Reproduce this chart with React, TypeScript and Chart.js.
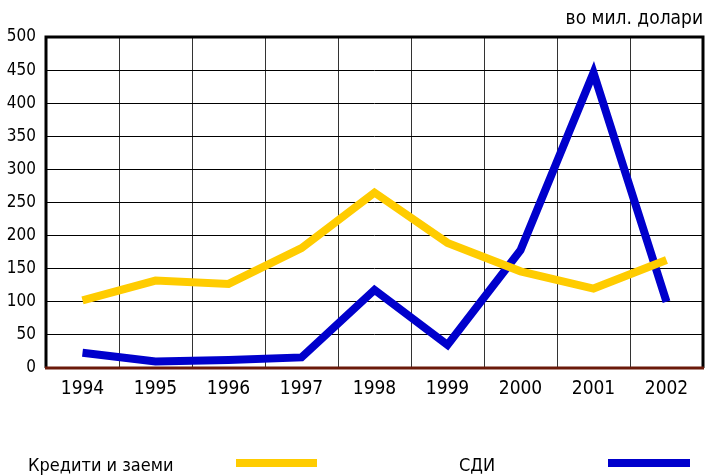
import React, { useEffect, useRef } from "react";
import { Chart, registerables } from "chart.js";

Chart.register(...registerables);

const years = ["1994", "1995", "1996", "1997", "1998", "1999", "2000", "2001", "2002"];
const loans = [102, 132, 127, 181, 265, 189, 146, 120, 163];
const fdi = [23, 10, 12, 16, 118, 35, 178, 446, 100];
const seriesNames = ["Кредити и заеми", "СДИ"];
const unitLabel = "во мил. долари";
const yMin = 0;
const yMax = 500;
const yStep = 50;

const FONT = "'Liberation Sans Narrow', 'DejaVu Sans Condensed', Arial, sans-serif";
const YELLOW = "#FFCC00";
const BLUE = "#0000CC";

const decorPlugin = {
  id: "decor",
  afterDraw(chart: any) {
    const { ctx, chartArea } = chart;
    const { left, right, top, bottom } = chartArea;
    ctx.save();
    // frame
    ctx.lineWidth = 3;
    ctx.strokeStyle = "#000";
    ctx.beginPath();
    ctx.moveTo(left, bottom);
    ctx.lineTo(left, top);
    ctx.lineTo(right, top);
    ctx.lineTo(right, bottom);
    ctx.stroke();
    ctx.strokeStyle = "#6B1A0A";
    ctx.beginPath();
    ctx.moveTo(left - 1, bottom);
    ctx.lineTo(right + 1, bottom);
    ctx.stroke();
    // unit label
    ctx.fillStyle = "#000";
    ctx.font = `19px ${FONT}`;
    ctx.textAlign = "right";
    ctx.textBaseline = "middle";
    ctx.fillText(unitLabel, 703, 19);
    // legend
    ctx.textAlign = "left";
    ctx.font = `18px ${FONT}`;
    ctx.fillText(seriesNames[0], 28, 466);
    ctx.fillText(seriesNames[1], 459, 466);
    ctx.lineWidth = 8;
    ctx.lineCap = "butt";
    ctx.strokeStyle = YELLOW;
    ctx.beginPath();
    ctx.moveTo(236, 463);
    ctx.lineTo(317, 463);
    ctx.stroke();
    ctx.strokeStyle = BLUE;
    ctx.beginPath();
    ctx.moveTo(608, 463);
    ctx.lineTo(690, 463);
    ctx.stroke();
    ctx.restore();
  },
};

export default function App() {
  const ref = useRef<HTMLCanvasElement>(null);
  useEffect(() => {
    document.body.style.margin = "0";
    const chart = new Chart(ref.current!, {
      type: "line",
      data: {
        labels: years,
        datasets: [
          {
            label: seriesNames[0],
            data: loans,
            borderColor: YELLOW,
            backgroundColor: YELLOW,
            borderWidth: 8,
            pointRadius: 0,
            tension: 0,
          },
          {
            label: seriesNames[1],
            data: fdi,
            borderColor: BLUE,
            backgroundColor: BLUE,
            borderWidth: 8,
            pointRadius: 0,
            tension: 0,
          },
        ],
      },
      options: {
        responsive: false,
        animation: false,
        layout: { padding: { left: 0, right: 4, top: 37, bottom: 66 } },
        plugins: { legend: { display: false }, tooltip: { enabled: false }, title: { display: false } },
        scales: {
          x: {
            offset: true,
            grid: { offset: true, color: "#333", lineWidth: 1, drawTicks: false },
            border: { display: false },
            ticks: { color: "#000", font: { family: FONT, size: 19 }, padding: 10 },
            afterFit(s: any) { s.height = 42; },
          },
          y: {
            min: yMin,
            max: yMax,
            grid: { color: "#000", lineWidth: 1, drawTicks: false },
            border: { display: false },
            ticks: { stepSize: yStep, color: "#000", font: { family: FONT, size: 17 }, padding: 10 },
            afterFit(s: any) { s.width = 46; },
          },
        },
      },
      plugins: [decorPlugin],
    });
    return () => chart.destroy();
  }, []);
  return (
    <div style={{ width: 707, height: 476, background: "#fff" }}>
      <canvas ref={ref} width={707} height={476} style={{ display: "block" }} />
    </div>
  );
}
